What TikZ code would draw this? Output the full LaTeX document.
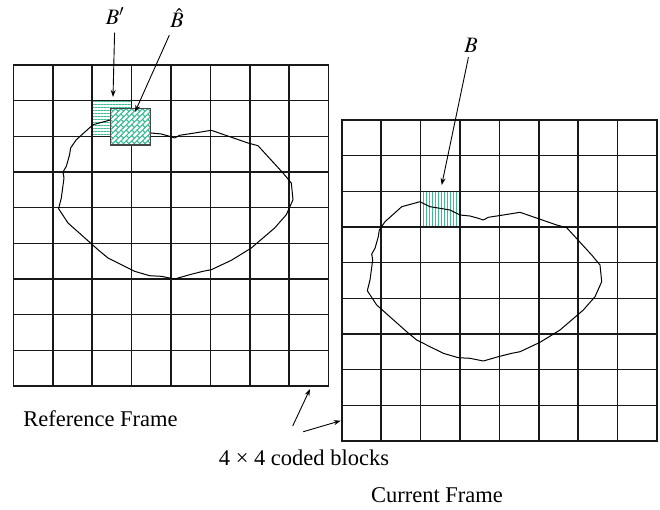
\documentclass[tikz,border=0pt]{standalone}
\usepackage{mathptmx}
\usepackage{fontspec}
\setmainfont{Liberation Serif}
\usetikzlibrary{arrows.meta,patterns,patterns.meta}

\definecolor{hatchgreen}{RGB}{58,188,148}
\definecolor{boxgray}{RGB}{70,70,70}

% diagonal bricks for the matched block
\tikzdeclarepattern{
  name=diagbricks,
  type=uncolored,
  bounding box={(-1pt,-1pt) and (8.6pt,8.6pt)},
  tile size={(7.6pt,7.6pt)},
  tile transformation={rotate=45},
  code={
    \draw[line width=1.1pt] (-1pt,0) -- (8.6pt,0) (-1pt,3.8pt) -- (8.6pt,3.8pt)
      (0,0) -- (0,3.8pt) (3.8pt,3.8pt) -- (3.8pt,7.6pt);
  }
}

\begin{document}
\begin{tikzpicture}[x=1pt, y=-1pt,
    gridline/.style={line width=1.6pt, draw=black!90, line cap=rect},
    hlines/.style={pattern={Lines[angle=0,distance=3pt,line width=0.9pt]}, pattern color=hatchgreen},
    vlines/.style={pattern={Lines[angle=90,distance=3pt,line width=0.9pt]}, pattern color=hatchgreen},
    bhatbox/.style={draw=boxgray, line width=1.3pt, preaction={fill=white},
      pattern=diagbricks, pattern color=hatchgreen,
      minimum width=40pt, minimum height=36.7pt, inner sep=0pt},
    lbl/.style={font=\fontsize{22}{26}\selectfont, inner sep=2pt},
    caption/.style={font=\fontsize{22.5}{27}\selectfont, inner sep=0pt},
    arr/.style={-{Stealth[length=7pt,width=5pt]}, line width=0.9pt},
    blob/.pic={
      \draw[line width=1pt, line join=round]
        (111.3,119.7) -- (121.3,124.7) -- (131.3,126.3) -- (141.3,128) -- (151.3,133)
        -- (161.3,134) -- (169.6,136.3) -- (174.6,138) -- (179.6,135.3) -- (194.6,133)
        -- (211.3,130.3) -- (248,143) -- (258,145.7) -- (283,173) -- (291.3,183)
        -- (293,199.7) -- (286.3,214.7) -- (274.6,228) -- (251.3,248) -- (231.3,260.3)
        -- (211.3,269.7) -- (203,271.3) -- (189.6,274.7) -- (174.6,279) -- (161.3,276.3)
        -- (149.6,275.7) -- (134.6,271.3) -- (121.3,264.7) -- (108,258) -- (98,249.7)
        -- (68,223) -- (58.6,208.7) -- (61.3,198) -- (64,178) -- (63,172)
        -- (66.3,166.3) -- (69.6,154.7) -- (70.6,148) -- (76.3,139.7) -- (93,124.7)
        -- cycle;
    }
  ]
  \useasboundingbox (0,0) rectangle (660,509);

  % reference frame
  \begin{scope}[shift={(13.3,65)}]
    \fill[hlines] (78.8,35.67) rectangle (118.2,71.33);
    \foreach \i in {0,...,8}
      \draw[gridline] (39.4*\i,0) -- (39.4*\i,321);
    \foreach \j in {0,...,9}
      \draw[gridline] (0,35.67*\j) -- (315.2,35.67*\j);
  \end{scope}
  \pic at (0,0) {blob};
  \node[bhatbox] (bhat) at (130.7,126.7) {};

  % current frame
  \begin{scope}[shift={(341.7,120)}]
    \fill[vlines] (78.8,71.33) rectangle (118.2,107);
    \foreach \i in {0,...,8}
      \draw[gridline] (39.4*\i,0) -- (39.4*\i,321);
    \foreach \j in {0,...,9}
      \draw[gridline] (0,35.67*\j) -- (315.2,35.67*\j);
  \end{scope}
  \pic at (308.7,82) {blob};

  % labels and pointers
  \node[lbl] (bprime) at (115,16) {$B'$};
  \node[lbl] (bhatlbl) at (177,18) {$\hat{B}$};
  \node[lbl] (blbl) at (471,45) {$B$};
  \coordinate (bprimetip) at (113,97);
  \coordinate (bhattip) at (135,112);
  \coordinate (btip) at (441.7,185);
  \draw[arr, shorten <=6pt] (bprime) -- (bprimetip);
  \draw[arr, shorten <=6pt] (bhatlbl) -- (bhattip);
  \draw[arr, shorten <=3pt] (blbl) -- (btip);

  \node[caption] (refcap) at (100.5,418.5) {Reference Frame};
  \node[caption] (codedcap) at (304,458) {4 × 4 coded blocks};
  \node[caption] (curcap) at (437,495) {Current Frame};

  \coordinate (codedA) at (292.7,426);
  \coordinate (codedAtip) at (310,389);
  \coordinate (codedB) at (303.3,431.7);
  \coordinate (codedBtip) at (340.7,420.7);
  \draw[arr] (codedA) -- (codedAtip);
  \draw[arr] (codedB) -- (codedBtip);
\end{tikzpicture}
\end{document}
